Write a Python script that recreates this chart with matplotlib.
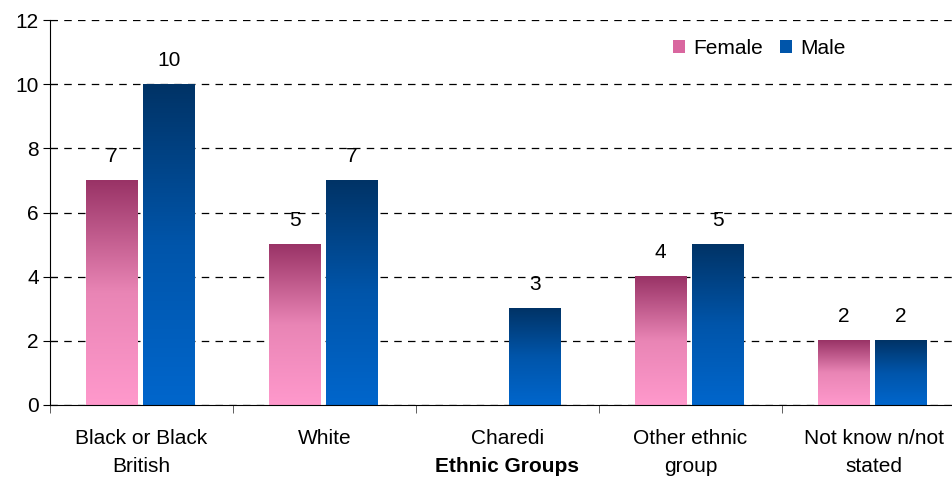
import matplotlib.pyplot as plt
import numpy as np
from matplotlib.colors import LinearSegmentedColormap
from matplotlib.patches import Patch

categories = ["Black or Black\nBritish", "White", "Charedi", "Other ethnic\ngroup", "Not know n/not\nstated"]
female = [7, 5, 0, 4, 2]
male = [10, 7, 3, 5, 2]

plt.rcParams['font.family'] = ['Liberation Sans', 'DejaVu Sans']

cmap_f = LinearSegmentedColormap.from_list("f", ["#ff99cc", "#e985b5", "#993366"])  # низ -> верх
cmap_m = LinearSegmentedColormap.from_list("m", ["#0066cc", "#0055aa", "#003366"])

fig = plt.figure(figsize=(9.53, 4.8), dpi=100)
ax = fig.add_axes([50 / 953, 75 / 480, 915 / 953, 385 / 480])

x = np.arange(len(categories))
w = 0.284
grad = np.linspace(0, 1, 256).reshape(-1, 1)


def grad_bars(xs, vals, cmap):
    bars = ax.bar(xs, vals, w, color='none', edgecolor='none', zorder=2)
    for b, v in zip(bars, vals):
        if v <= 0:
            continue
        x0 = b.get_x()
        ax.imshow(grad, cmap=cmap, origin='lower', aspect='auto',
                  extent=[x0, x0 + b.get_width(), 0, v], zorder=2)
        ax.text(x0 + b.get_width() / 2, v + 0.45, str(v), ha='center', va='bottom', fontsize=15)
    return bars


grad_bars(x - 0.164, female, cmap_f)
grad_bars(x + 0.148, male, cmap_m)

ax.set_xlim(-0.5, len(categories) - 0.5)
ax.set_ylim(0, 12)
ax.set_yticks(range(0, 13, 2))
ax.yaxis.grid(True, linestyle=(0, (6, 5)), color='black', linewidth=0.9, zorder=0)
ax.set_axisbelow(True)

ax.set_xticks(x)
ax.set_xticklabels(categories, fontsize=15, linespacing=1.65)
ax.set_xticks(np.arange(-0.5, len(categories), 1), minor=True)
ax.tick_params(axis='x', which='major', length=0, pad=17)
ax.tick_params(axis='x', which='minor', length=6, color='#444444')
ax.tick_params(axis='y', labelsize=15, length=10, direction='inout', color='black', pad=3)

for s in ['top', 'right']:
    ax.spines[s].set_visible(False)
ax.spines['left'].set_color('black')
ax.spines['bottom'].set_color('black')

fig.text(507 / 953, 1 - 466 / 480, "Ethnic Groups", ha='center', va='center', fontsize=15, fontweight='bold')

handles = [Patch(facecolor='#d9669f', label='Female'), Patch(facecolor='#0055aa', label='Male')]
ax.legend(handles=handles, loc='upper left', bbox_to_anchor=(0.66, 1.0), ncol=2, frameon=False,
          fontsize=15, handlelength=0.6, handleheight=0.6, handletextpad=0.4, columnspacing=0.8)

plt.savefig("out.png", dpi=100)
